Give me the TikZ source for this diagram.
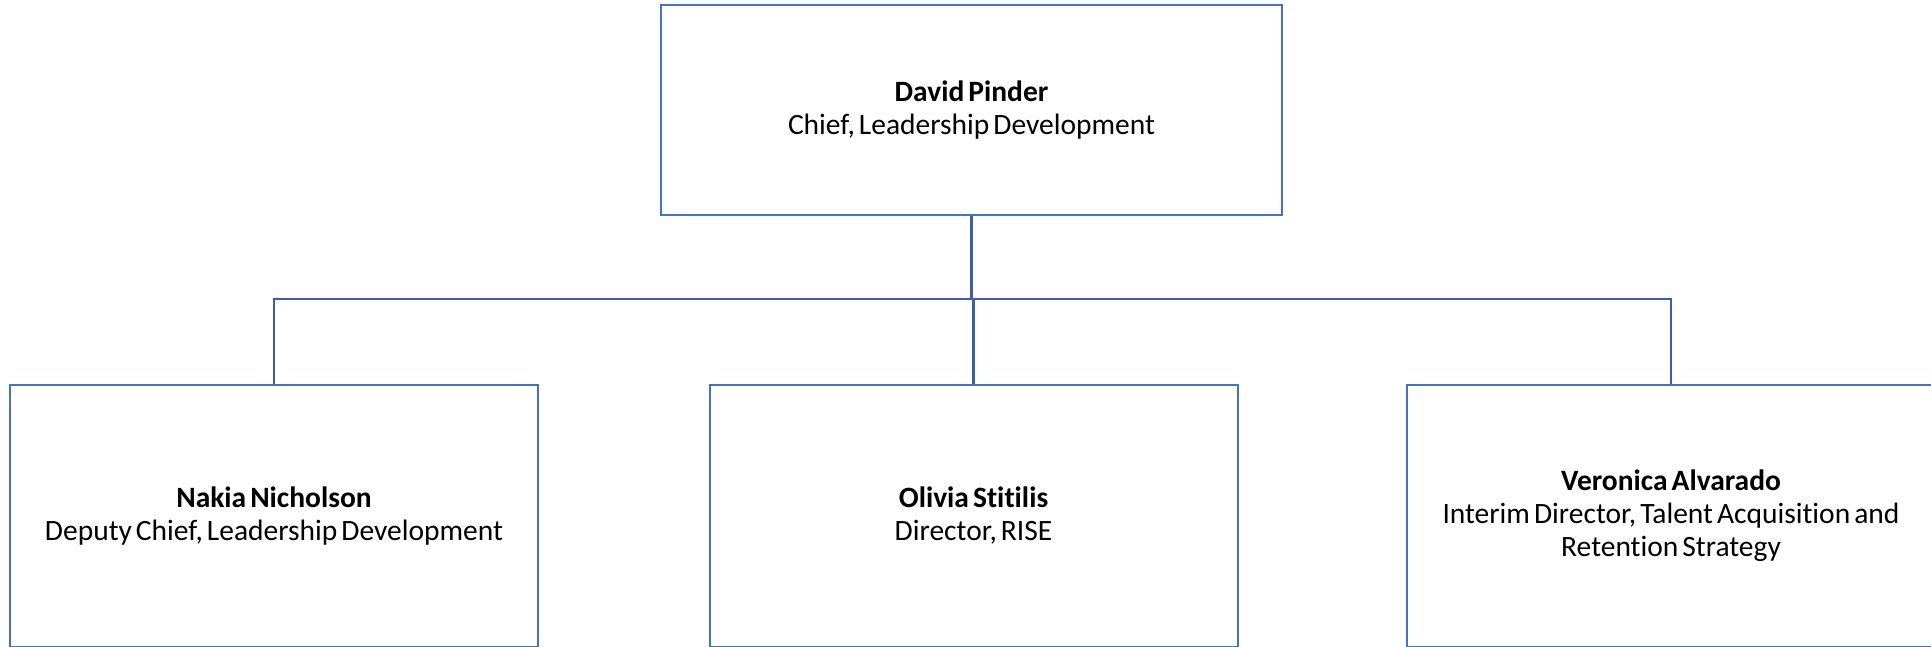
\documentclass[tikz,border=0pt]{standalone}
\usepackage{fontspec}
\setmainfont{Carlito}[Ligatures=NoCommon, WordSpace=0.6]
\definecolor{boxblue}{HTML}{4472C4}
\definecolor{linkblue}{HTML}{3A5FA3}
\begin{document}
\begin{tikzpicture}[x=1pt,y=-1pt,
  person/.style={draw=boxblue, line width=2pt, fill=white, rectangle, align=center,
    inner sep=0pt, font=\fontsize{29.5}{33}\selectfont},
  conn/.style={draw=linkblue, line width=2.6pt}]
\useasboundingbox (0,0) rectangle (1931,646);
\node[person, minimum width=621pt, minimum height=210pt] (top) at (971.5,110)
  {\textbf{David Pinder}\\Chief, Leadership Development};
\node[person, minimum width=528pt, minimum height=262pt] (left) at (274,516)
  {\textbf{Nakia Nicholson}\\Deputy Chief, Leadership Development};
\node[person, minimum width=528pt, minimum height=262pt] (mid) at (973.5,516)
  {\textbf{Olivia Stitilis}\\Director, RISE};
\node[person, minimum width=528pt, minimum height=262pt] (right) at (1671,516)
  {\textbf{Veronica Alvarado}\\Interim Director, Talent Acquisition and\\Retention Strategy};
\coordinate (bus) at (971.5,299);
\draw[conn] (top.south) -- (bus);
\draw[conn] (left.north) |- (right.north |- bus) -- (right.north);
\draw[conn] (mid.north) -- (mid.north |- bus);
\end{tikzpicture}
\end{document}
